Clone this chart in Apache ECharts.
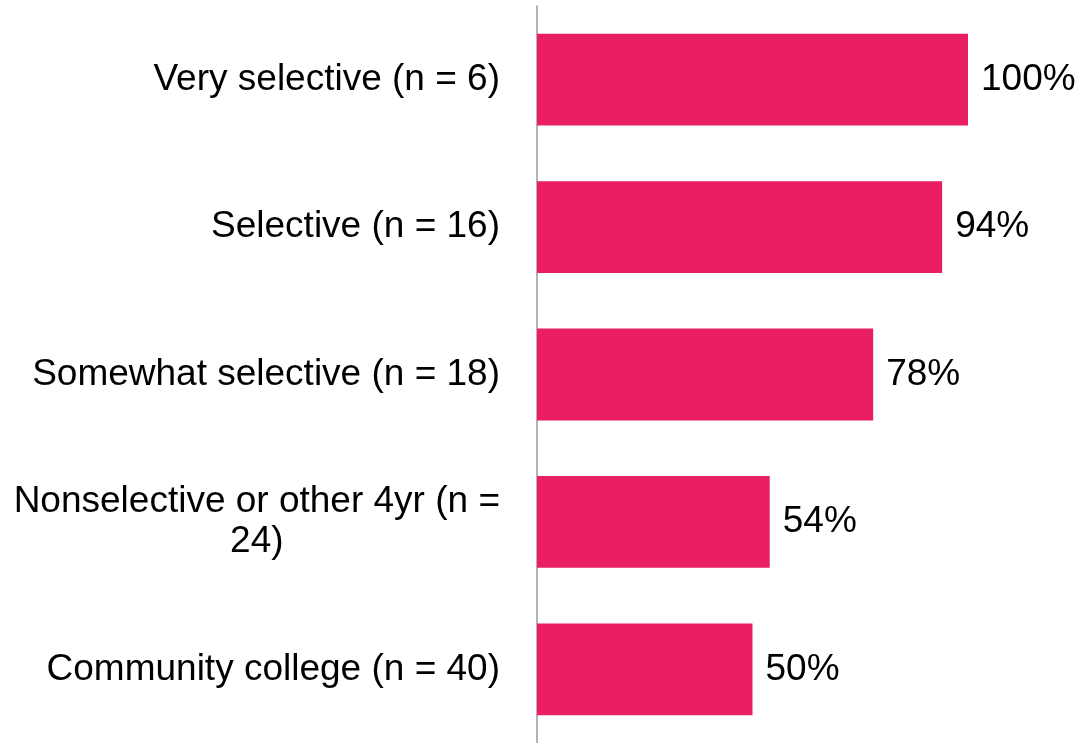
<!DOCTYPE html>
<html>
<head>
<meta charset="utf-8">
<script src="https://cdn.jsdelivr.net/npm/echarts@6/dist/echarts.min.js"></script>
<style>
html,body{margin:0;padding:0;background:#fff;}
#chart{width:1082px;height:743px;}
</style>
</head>
<body>
<div id="chart"></div>
<script>
const categories = [
  'Very selective (n = 6)',
  'Selective (n = 16)',
  'Somewhat selective (n = 18)',
  'Nonselective or other 4yr (n =\n24)',
  'Community college (n = 40)'
];
const values = [100, 94, 78, 54, 50];

const chart = echarts.init(document.getElementById('chart'));
chart.setOption({
  animation: false,
  grid: { left: 537, right: 114, top: 6, bottom: -2 },
  xAxis: {
    type: 'value', min: 0, max: 100, show: false
  },
  yAxis: {
    type: 'category',
    data: categories,
    inverse: true,
    axisLine: { show: true, lineStyle: { color: '#9a9a9a', width: 1.5 } },
    axisTick: { show: false },
    axisLabel: {
      margin: 37,
      fontSize: 37,
      color: '#000',
      fontFamily: 'Liberation Sans, Arial, sans-serif',
      lineHeight: 40,
      formatter: function (v) {
        if (v.indexOf('\n') >= 0) {
          return v.split('\n').map(s => '{c|' + s + '}').join('\n');
        }
        return v;
      },
      rich: {
        c: {
          align: 'center',
          fontSize: 37,
          color: '#000',
          lineHeight: 40,
          fontFamily: 'Liberation Sans, Arial, sans-serif'
        }
      }
    }
  },
  series: [{
    type: 'bar',
    data: values,
    barCategoryGap: '37.7%',
    itemStyle: { color: '#E91E63' },
    label: {
      show: true,
      position: 'right',
      distance: 13,
      formatter: '{c}%',
      fontSize: 37,
      color: '#000',
      fontFamily: 'Liberation Sans, Arial, sans-serif'
    }
  }]
});
</script>
</body>
</html>
